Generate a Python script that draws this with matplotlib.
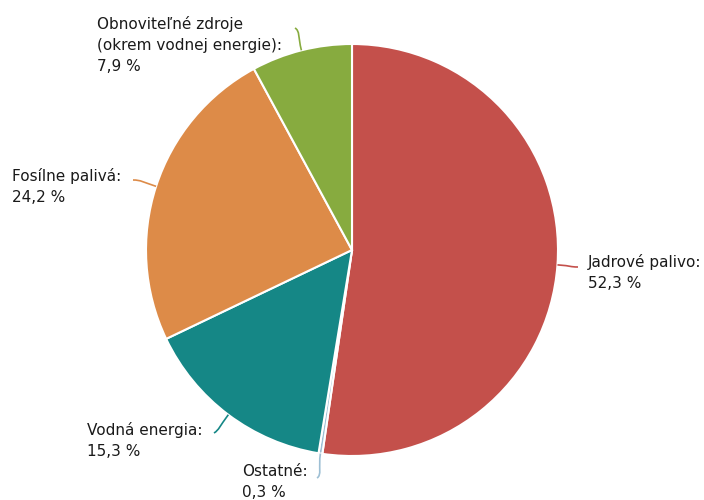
import numpy as np
import matplotlib.pyplot as plt
from matplotlib.path import Path
from matplotlib.patches import PathPatch

# Podiel zdrojov na výrobe elektriny (%)
kategorie = ['Jadrové palivo', 'Ostatné', 'Vodná energia', 'Fosílne palivá',
             'Obnoviteľné zdroje\n(okrem vodnej energie)']
hodnoty = [52.3, 0.3, 15.3, 24.2, 7.9]
popisky = ['52,3 %', '0,3 %', '15,3 %', '24,2 %', '7,9 %']
farby = ['#C4504B', '#9DBFD4', '#158786', '#DD8B48', '#87AB3F']

W, H = 704, 500
CX, CY, R = 352, 250, 206

fig = plt.figure(figsize=(W / 100, H / 100), dpi=100)
ax = fig.add_axes([0, 0, 1, 1])

wedges, _ = ax.pie(hodnoty, colors=farby, startangle=90, counterclock=False,
                   center=(CX, H - CY), radius=R,
                   wedgeprops=dict(edgecolor='white', linewidth=1.5))

# pie() si nastavuje vlastné limity, preto až potom
ax.set_xlim(0, W)
ax.set_ylim(0, H)
ax.set_aspect('equal')
ax.axis('off')

# umiestnenie popisov: (x textu, stred y textu, koniec spojnice x, y) v pixeloch
rozlozenie = [
    (588, 273, 578, 267),
    (242, 482, 317, 478),
    (87, 440, 214, 433),
    (12, 186, 133, 180),
    (97, 45, 295, 28),
]

for w, kat, pop, f, (tx, ty, ex, ey) in zip(wedges, kategorie, popisky, farby, rozlozenie):
    uhol = np.deg2rad((w.theta1 + w.theta2) / 2)
    dx, dy = np.cos(uhol), np.sin(uhol)
    p0 = (CX + R * dx, H - CY + R * dy)
    p3 = (ex, H - ey)
    p1 = (p0[0] + dx * 14, p0[1] + dy * 14)
    if abs(dx) > 0.9:
        smer = -1 if ex < p0[0] else 1
        p2 = (p3[0] - smer * 8, p3[1])
    else:
        p2 = (p3[0] + 5, p3[1] + (3 if dy < 0 else -3))
    cesta = Path([p0, p1, p2, p3], [Path.MOVETO, Path.CURVE4, Path.CURVE4, Path.CURVE4])
    ax.add_patch(PathPatch(cesta, facecolor='none', edgecolor=f, linewidth=1.2))
    ax.text(tx, H - ty, f'{kat}:\n{pop}', ha='left', va='center', fontsize=11,
            family='DejaVu Sans', color='#1a1a1a', linespacing=1.5)

fig.savefig('out.png', dpi=100)
